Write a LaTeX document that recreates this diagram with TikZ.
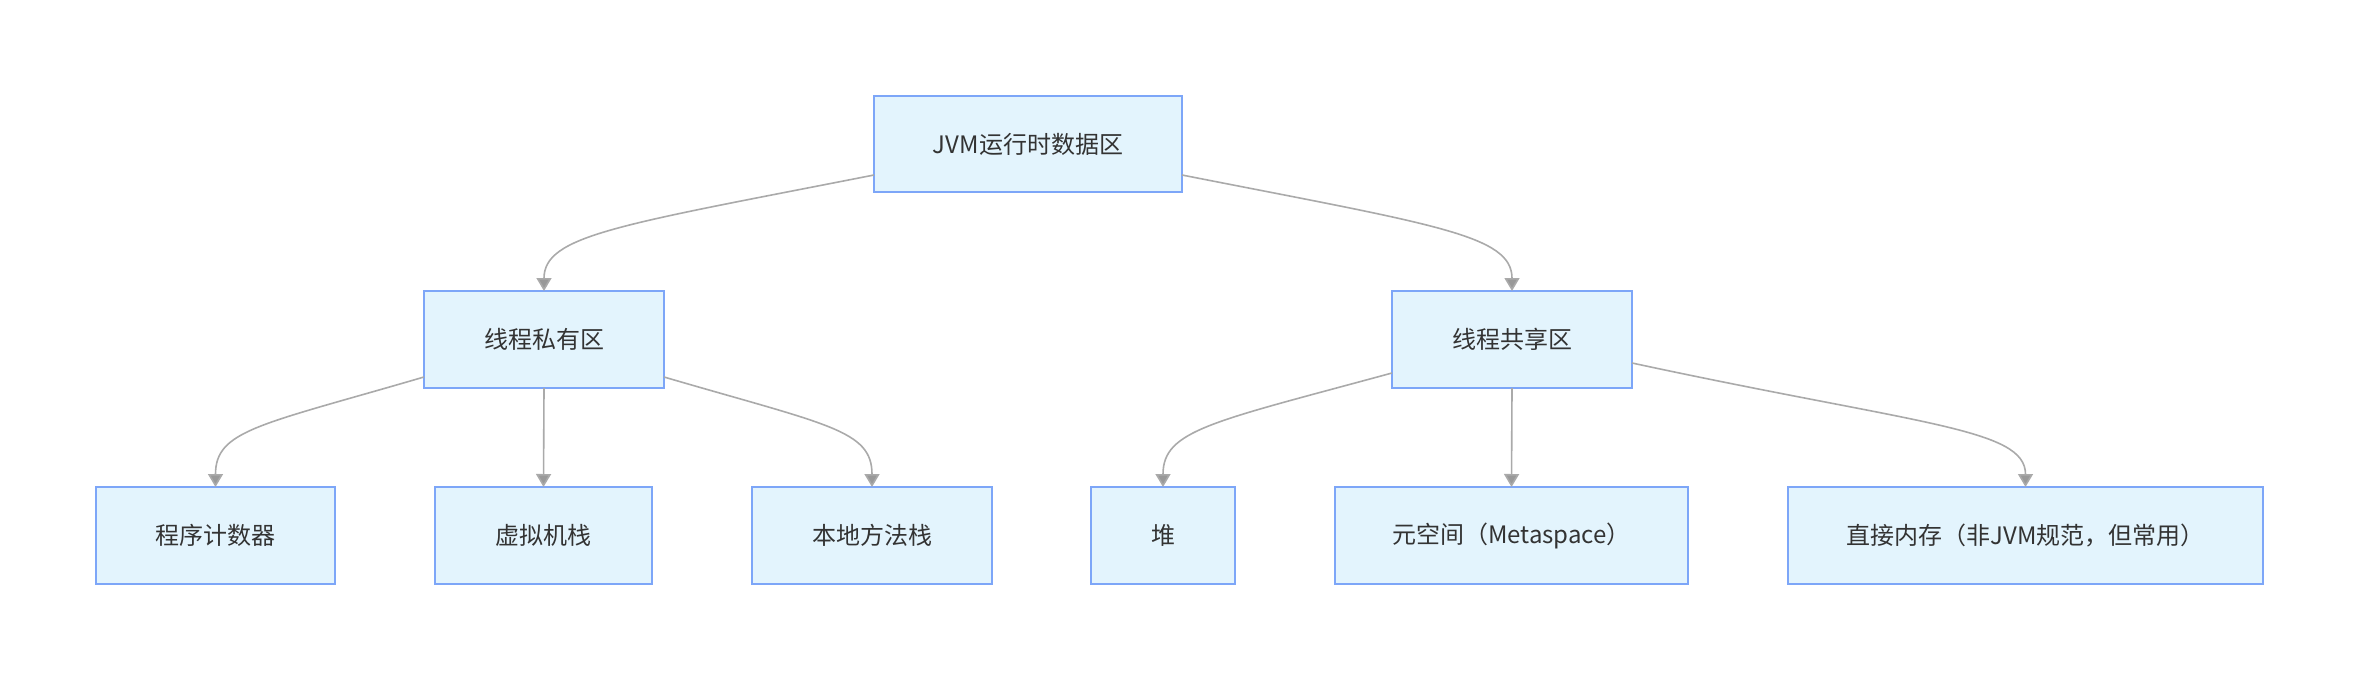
\documentclass[tikz,border=0pt]{standalone}
\usepackage{fontspec}
\setmainfont{Noto Sans CJK SC}
\usetikzlibrary{arrows.meta}
\definecolor{boxfill}{HTML}{E3F4FD}
\definecolor{boxline}{HTML}{7DA6F8}
\definecolor{edgecol}{HTML}{AAAAAA}
\definecolor{tipcol}{HTML}{999999}
\definecolor{txt}{HTML}{333333}
\tikzset{
  box/.style={draw=boxline, fill=boxfill, line width=2pt, inner sep=0pt,
    text=txt, font=\fontsize{24}{28}\selectfont},
  conn/.style={draw=edgecol, line width=1.6pt,
    -{Triangle[width=15pt,length=13pt,fill=tipcol]}}
}
\newcommand{\mybox}[6]{% name, x1, y1, x2, y2, text
  \path[box] (#2,#3) rectangle (#4,#5);
  \node[font=\fontsize{24}{28}\selectfont, text=txt] (#1) at ({(#2+#4)/2},{(#3+#5)/2}) {#6};
  \coordinate (#1-t) at ({(#2+#4)/2},#3);
  \coordinate (#1-b) at ({(#2+#4)/2},#5);
}
\begin{document}
\begin{tikzpicture}[x=1pt,y=-1pt]
\useasboundingbox (0,0) rectangle (2359,680);
\mybox{root}{874}{96}{1182}{192}{JVM运行时数据区}
\mybox{priv}{424}{291}{664}{388}{线程私有区}
\mybox{shar}{1392}{291}{1632}{388}{线程共享区}
\mybox{pc}{96}{487}{335}{584}{程序计数器}
\mybox{vms}{435}{487}{652}{584}{虚拟机栈}
\mybox{nms}{752}{487}{992}{584}{本地方法栈}
\mybox{heap}{1091}{487}{1235}{584}{堆}
\mybox{meta}{1335}{487}{1688}{584}{元空间（Metaspace）}
\mybox{direct}{1788}{487}{2263}{584}{直接内存（非JVM规范，但常用）}
% connector anchors
\coordinate (rootL) at (874,175);
\coordinate (rootR) at (1182,175);
\coordinate (privL) at (424,377);
\coordinate (privR) at (664,377);
\coordinate (sharL) at (1392,373);
\coordinate (sharR) at (1632,363);
\draw[conn] (rootL) .. controls (620,225) and (544,235) .. (priv-t);
\draw[conn] (rootR) .. controls (1436,225) and (1512,235) .. (shar-t);
\draw[conn] (privL) .. controls (260,425) and (215.5,430) .. (pc-t);
\draw[conn] (priv-b) -- (vms-t);
\draw[conn] (privR) .. controls (828,425) and (872,430) .. (nms-t);
\draw[conn] (sharL) .. controls (1212,422) and (1163,430) .. (heap-t);
\draw[conn] (shar-b) -- (meta-t);
\draw[conn] (sharR) .. controls (1920,425) and (2025.5,428) .. (direct-t);
\end{tikzpicture}
\end{document}
